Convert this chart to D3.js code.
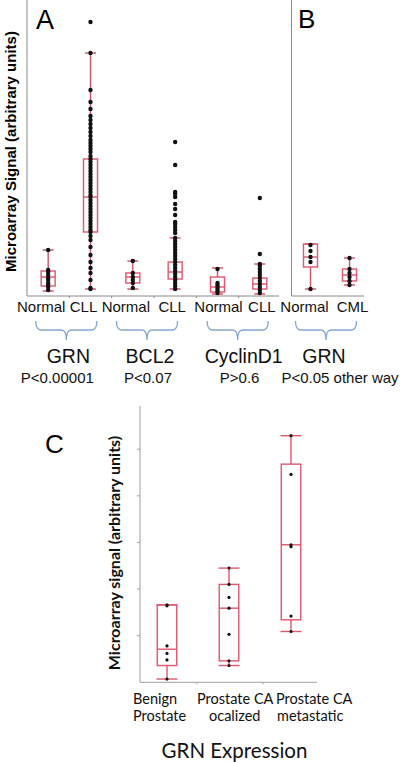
<!DOCTYPE html>
<html><head><meta charset="utf-8">
<script src="https://cdn.jsdelivr.net/npm/d3@7"></script>
<style>
html,body{margin:0;padding:0;background:#fff;}
svg{display:block;}
</style></head>
<body>
<svg id="chart" width="400" height="762"></svg>
<script>
// ---------------- DATA ----------------
// Panel A (leukemia microarray)
const condA = ["Normal","CLL","Normal","CLL","Normal","CLL"];
const genesA = ["GRN","BCL2","CyclinD1"];
const pvalsA = ["P<0.00001","P<0.07","P>0.6"];
// [low whisker, q1, median, q3, high whisker]
const statsA = [
  [5,10,19,25,46],
  [7,64,99,137,243],
  [7,13,19,23,35],
  [7,17,24,34,58],
  [2,4,9,19,28],
  [2,7,12,18,32]
];
const pointsA = [
  [46,26,24,21,18,16,13,11,9,6],
  [274,243,206,194,187,180,176,172,168,164,160,156,153,150,147,144,140,137,134,131,128,125,122,119,116,113,110,107,104,101,99,96,93,90,87,84,81,78,75,72,69,66,64,60,56,49,41,34,28,23,16,8,7],
  [35,23,19,16,13,8],
  [154,131,104,102,99,92,87,81,74,72,69,66,63,58,55,52,49,46,43,40,37,34,31,28,25,22,19,16,13,10,7],
  [27,13,11,9,7,5,3],
  [98,42,32,30,27,24,21,18,15,12,9,6,3]
];
// Panel B (CML)
const condB = ["Normal","CML"];
const geneB = "GRN";
const pvalB = "P<0.05 other way";
const statsB = [
  [7,29,39,52,52],
  [11,15,21,27,38]
];
const pointsB = [
  [51,45,39,34,7],
  [38,27,23,19,15,11]
];
// Panel C (prostate)
const catsC = [["Benign","Prostate"],["Prostate CA","ocalized"],["Prostate CA","metastatic"]];
const statsC = [
  [0.07,0.36,0.71,1.66,1.66],
  [0.36,0.46,1.59,2.10,2.45],
  [1.09,1.34,2.95,4.68,5.29]
];
const pointsC = [
  [1.66,1.64,0.78,0.62,0.48,0.07],
  [2.45,2.10,1.82,1.59,1.03,0.46,0.36],
  [5.29,4.46,2.95,2.91,1.42,1.09]
];
const ticksC = [1,2,3,4,5];
const titleC = "GRN Expression";
const yLabelAB = "Microarray Signal (arbitrary units)";
const yLabelC = "Microarray signal (arbitrary units)";

// ---------------- LAYOUT / STYLE ----------------
const boxColor = "#e2566f";
const whiskColor = "#cf5068";
const axisColor = "#8a8a8a";
const braceColor = "#86a6d2";
const fontA = "'Liberation Sans', Arial, sans-serif";
const fontC = "Lato, 'Open Sans', sans-serif";

const svg = d3.select("#chart");

// ---- Panel A/B scales
const yA = d3.scaleLinear().domain([0,296]).range([296,0]);
const xA = d3.scaleBand().domain(d3.range(condA.length)).range([27,281]);
const xB = d3.scaleBand().domain(d3.range(condB.length)).range([291,369]);

function drawBoxes(g, stats, pts, x, y, opt){
  stats.forEach((s,i)=>{
    const cx = x(i) + x.bandwidth()/2;
    const [lo,q1,md,q3,hi] = s;
    const hw = opt.boxW/2, cw = opt.capW/2;
    g.append("line").attr("x1",cx).attr("x2",cx).attr("y1",y(hi)).attr("y2",y(q3))
      .attr("stroke",opt.whisk).attr("stroke-width",opt.sw);
    g.append("line").attr("x1",cx).attr("x2",cx).attr("y1",y(q1)).attr("y2",y(lo))
      .attr("stroke",opt.whisk).attr("stroke-width",opt.sw);
    [hi,lo].forEach(v=>{
      g.append("line").attr("x1",cx-cw).attr("x2",cx+cw).attr("y1",y(v)).attr("y2",y(v))
        .attr("stroke",opt.whisk).attr("stroke-width",opt.sw);
    });
    g.append("rect").attr("x",cx-hw).attr("width",opt.boxW)
      .attr("y",y(q3)).attr("height",Math.max(0,y(q1)-y(q3)))
      .attr("fill","none").attr("stroke",boxColor).attr("stroke-width",opt.sw);
    g.append("line").attr("x1",cx-hw).attr("x2",cx+hw).attr("y1",y(md)).attr("y2",y(md))
      .attr("stroke",boxColor).attr("stroke-width",opt.sw);
    g.selectAll(null).data(pts[i]).enter().append("circle")
      .attr("cx",cx).attr("cy",d=>y(d)).attr("r",opt.r).attr("fill","#111");
  });
}

const gA = svg.append("g");
gA.append("line").attr("x1",27).attr("x2",27).attr("y1",yA(296)).attr("y2",yA(0)).attr("stroke",axisColor).attr("stroke-width",1);
gA.append("line").attr("x1",27).attr("x2",279).attr("y1",yA(0)).attr("y2",yA(0)).attr("stroke",axisColor).attr("stroke-width",1);
d3.range(1,condA.length).forEach(i=>{
  gA.append("line").attr("x1",xA(i)).attr("x2",xA(i)).attr("y1",yA(0)).attr("y2",yA(0)+2).attr("stroke",axisColor);
});
gA.append("line").attr("x1",291.5).attr("x2",291.5).attr("y1",yA(296)).attr("y2",yA(0)).attr("stroke",axisColor).attr("stroke-width",1);
gA.append("line").attr("x1",291.5).attr("x2",364).attr("y1",yA(0)).attr("y2",yA(0)).attr("stroke",axisColor).attr("stroke-width",1);

const optAB = {boxW:14, capW:11, sw:1.4, r:2.2, whisk:whiskColor};
drawBoxes(gA, statsA, pointsA, xA, yA, optAB);
drawBoxes(gA, statsB, pointsB, xB, yA, optAB);

svg.append("text").attr("x",36).attr("y",29).attr("font-family",fontA).attr("font-size",27).text("A");
svg.append("text").attr("x",298).attr("y",28).attr("font-family",fontA).attr("font-size",26).text("B");

svg.append("text").attr("transform","translate(16,151.5) rotate(-90)")
  .attr("text-anchor","middle").attr("font-family",fontA).attr("font-weight","bold")
  .attr("font-size",15).text(yLabelAB);

const condOffA = [-7,-7,-7,-3,1,2];
condA.forEach((c,i)=>{
  svg.append("text").attr("x",xA(i)+xA.bandwidth()/2+condOffA[i]).attr("y",311.5)
    .attr("text-anchor","middle").attr("font-family",fontA).attr("font-size",15).attr("fill","#111").text(c);
});
const condOffB = [-6,3];
condB.forEach((c,i)=>{
  svg.append("text").attr("x",xB(i)+xB.bandwidth()/2+condOffB[i]).attr("y",311.5)
    .attr("text-anchor","middle").attr("font-family",fontA).attr("font-size",15).attr("fill","#111").text(c);
});

const groups = genesA.map((g,k)=>({gene:g, p:pvalsA[k], a:xA(2*k)+xA.bandwidth()/2, b:xA(2*k+1)+xA.bandwidth()/2}))
  .concat([{gene:geneB, p:pvalB, a:xB(0)+xB.bandwidth()/2, b:xB(1)+xB.bandwidth()/2}]);
const braceOff = [-3,-7,-1,-4];
const geneOff = [-1,-4,5,-6];
const pOff = [-12,-6,1,10];
groups.forEach((g,k)=>{
  const mid = (g.a+g.b)/2;
  const cx = mid + braceOff[k];
  const x1 = cx - 30.5, x2 = cx + 30.5;
  const top = 321, hy = 330, bot = 340;
  const p = `M${x1},${top} Q${x1},${hy} ${x1+5},${hy} L${cx-5},${hy} Q${cx},${hy} ${cx},${bot} Q${cx},${hy} ${cx+5},${hy} L${x2-5},${hy} Q${x2},${hy} ${x2},${top}`;
  svg.append("path").attr("d",p).attr("fill","none").attr("stroke",braceColor).attr("stroke-width",1.3);
  svg.append("text").attr("x",mid+geneOff[k]).attr("y",362.5).attr("text-anchor","middle")
    .attr("font-family",fontA).attr("font-size",19.5).attr("fill","#111").text(g.gene);
  svg.append("text").attr("x",mid+pOff[k]).attr("y",382.5).attr("text-anchor","middle")
    .attr("font-family",fontA).attr("font-size",15).attr("fill","#111").text(g.p);
});

// ---------------- Panel C ----------------
const yC = d3.scaleLinear().domain([0,6]).range([682.3,402.6]);
const xC = d3.scaleBand().domain(d3.range(catsC.length)).range([136,322]);
const gC = svg.append("g");
gC.append("line").attr("x1",140).attr("x2",140).attr("y1",yC(5.93)).attr("y2",yC(0)).attr("stroke","#a0a0a0");
gC.append("line").attr("x1",140).attr("x2",317).attr("y1",yC(0)).attr("y2",yC(0)).attr("stroke","#a0a0a0");
ticksC.forEach(t=>{
  gC.append("line").attr("x1",137).attr("x2",140).attr("y1",yC(t)).attr("y2",yC(t)).attr("stroke","#a0a0a0");
});
[197,263].forEach(xx=>{
  gC.append("line").attr("x1",xx).attr("x2",xx).attr("y1",yC(0)).attr("y2",yC(0)+2).attr("stroke","#a0a0a0");
});
drawBoxes(gC, statsC, pointsC, xC, yC, {boxW:19.5, capW:21, sw:1.4, r:1.6, whisk:boxColor});

svg.append("text").attr("x",45).attr("y",453).attr("font-family",fontA).attr("font-size",26).text("C");

svg.append("text").attr("transform","translate(120,553) rotate(-90)")
  .attr("text-anchor","middle").attr("font-family",fontC).attr("font-weight","bold")
  .attr("font-size",16).attr("fill","#111").text(yLabelC);

const labPos = [[133,133],[197,209],[276,277]];
catsC.forEach((lines,i)=>{
  lines.forEach((l,j)=>{
    svg.append("text").attr("x",labPos[i][j]).attr("y",703.5+j*17.5)
      .attr("font-family",fontC).attr("font-size",14.5).attr("fill","#111").text(l);
  });
});
svg.append("text").attr("x",234.5).attr("y",757.5).attr("text-anchor","middle")
  .attr("font-family",fontC).attr("font-size",20.5).attr("fill","#111").text(titleC);
</script>
</body></html>
